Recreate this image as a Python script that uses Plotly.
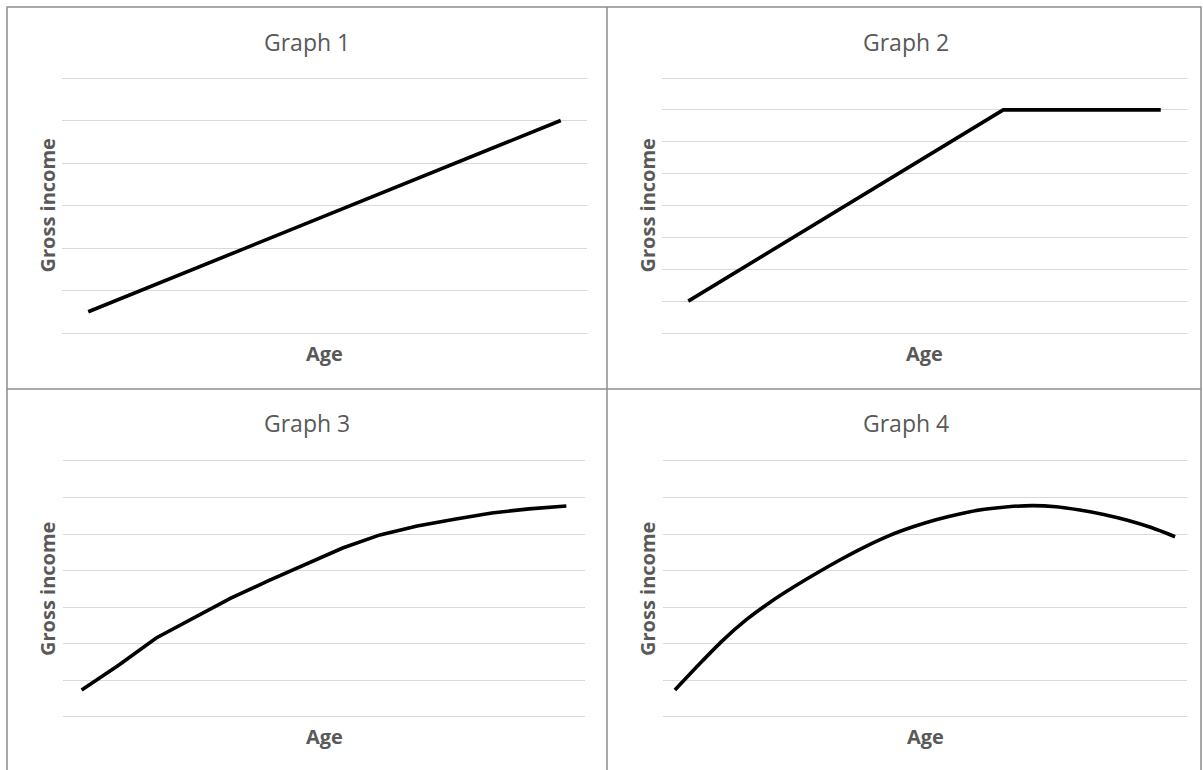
import plotly.graph_objects as go

# ---------------- data ----------------
titles = ["Graph 1", "Graph 2", "Graph 3", "Graph 4"]
x_title = "Age"
y_title = "Gross income"

g1_values = [0.5, 1.0, 1.5, 2.0, 2.5, 3.0, 3.5, 4.0, 4.5, 5.0]
g2_values = [1, 2, 3, 4, 5, 6, 7, 7, 7, 7]
g3_values = [0.74, 1.42, 2.16, 2.71, 3.25, 3.72, 4.18, 4.62, 4.98, 5.22,
             5.41, 5.58, 5.69, 5.77]
g4_values = [0.74, 1.43, 2.09, 2.66, 3.14, 3.56, 3.95, 4.32, 4.66, 4.96,
             5.20, 5.40, 5.56, 5.68, 5.75, 5.78, 5.75, 5.66, 5.54, 5.38,
             5.18, 4.93]
y_max = [6, 8, 7, 7]
smooth = [False, False, False, True]

# ---------------- layout helpers ----------------
W, H = 1203, 770
FONT = "Open Sans"
GRAY = "#595959"


def px_x(p):
    return p / W


def px_y(p):
    return 1 - p / H


# plot areas in pixels: (left, right, y of value 0, y of top gridline)
areas = [
    (62, 587, 333, 78),
    (662, 1187, 333, 78),
    (63, 585, 717, 461),
    (663, 1187, 717, 461),
]
title_y = [42, 42, 423, 423]
title_x = [307, 906, 307, 906]
age_y = [353, 353, 736, 736]
ylab_x = [47, 647, 47, 647]

series = [g1_values, g2_values, g3_values, g4_values]

fig = go.Figure()
layout = dict(
    width=W, height=H, margin=dict(l=0, r=0, t=0, b=0),
    paper_bgcolor="white", plot_bgcolor="white", showlegend=False,
    font=dict(family=FONT, color=GRAY),
)
annotations = []

for i, vals in enumerate(series):
    k = "" if i == 0 else str(i + 1)
    left, right, y0, ytop = areas[i]
    vmax = y_max[i]
    per = (y0 - ytop) / vmax
    pad = 0.25
    bottom_px = y0 + pad * per
    top_px = ytop - pad * per
    n = len(vals)
    line = dict(color="black", width=3.6)
    if smooth[i]:
        line.update(shape="spline", smoothing=0.8)
    fig.add_trace(go.Scatter(
        x=list(range(n)), y=vals, mode="lines", line=line,
        xaxis="x" + k, yaxis="y" + k, hoverinfo="skip",
    ))
    layout["xaxis" + k] = dict(
        domain=[px_x(left), px_x(right)], range=[-0.5, n - 0.5],
        showgrid=False, zeroline=False, showticklabels=False,
        showline=False, anchor="y" + k, fixedrange=True,
    )
    layout["yaxis" + k] = dict(
        domain=[px_y(bottom_px), px_y(top_px)], range=[-pad, vmax + pad],
        tickvals=list(range(0, vmax + 1)), showticklabels=False,
        showgrid=True, gridcolor="#d9d9d9", gridwidth=1,
        zeroline=False, showline=False, anchor="x" + k, fixedrange=True,
    )
    annotations.append(dict(
        text=titles[i], x=px_x(title_x[i]), y=px_y(title_y[i]),
        xref="paper", yref="paper", showarrow=False,
        xanchor="center", yanchor="middle",
        font=dict(family=FONT, size=23, color=GRAY),
    ))
    annotations.append(dict(
        text="<b>" + x_title + "</b>", x=px_x((left + right) / 2),
        y=px_y(age_y[i]), xref="paper", yref="paper", showarrow=False,
        xanchor="center", yanchor="middle",
        font=dict(family=FONT, size=20, color=GRAY),
    ))
    annotations.append(dict(
        text="<b>" + y_title + "</b>", x=px_x(ylab_x[i]),
        y=px_y((y0 + ytop) / 2), xref="paper", yref="paper",
        showarrow=False, textangle=-90, xanchor="center", yanchor="middle",
        font=dict(family=FONT, size=20, color=GRAY),
    ))

layout["annotations"] = annotations
border = dict(color="#8c8c8c", width=1.5)
layout["shapes"] = [
    dict(type="rect", xref="paper", yref="paper",
         x0=px_x(7), x1=px_x(1201), y0=px_y(772), y1=px_y(7), line=border),
    dict(type="line", xref="paper", yref="paper",
         x0=px_x(607), x1=px_x(607), y0=px_y(772), y1=px_y(7), line=border),
    dict(type="line", xref="paper", yref="paper",
         x0=px_x(7), x1=px_x(1201), y0=px_y(389), y1=px_y(389), line=border),
]
fig.update_layout(**layout)
fig.write_html(
    "out.html",
    config={"displayModeBar": False},
    post_script="document.body.style.margin='0';document.body.style.overflow='hidden';",
)
